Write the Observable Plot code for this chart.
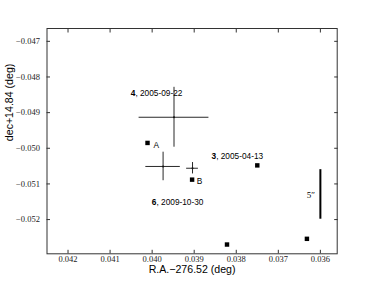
<!DOCTYPE html>
<html><head><meta charset="utf-8">
<script src="https://cdn.jsdelivr.net/npm/d3@7"></script>
<script src="https://cdn.jsdelivr.net/npm/@observablehq/plot@0.6"></script>
<style>body{margin:0;background:#fff}#chart svg{display:block}</style>
</head><body><div id="chart"></div>
<script>
// Tick values
const xTicks = [0.042, 0.041, 0.040, 0.039, 0.038, 0.037, 0.036];
const yTicks = [-0.047, -0.048, -0.049, -0.050, -0.051, -0.052];
// Error-bar positions (deg) and errors
const ebRA = [0.03948, 0.03974, 0.03904];
const ebDec = [-0.04913, -0.05051, -0.05056];
const ebRAerr = [0.00083, 0.00041, 0.00014];
const ebDecErr = [0.00084, 0.00040, 0.00016];
// Square markers
const sqRA = [0.04011, 0.03905, 0.03750, 0.03822, 0.03632];
const sqDec = [-0.04985, -0.05088, -0.05048, -0.05270, -0.05254];
// Epoch labels
const labNum = ["4", "3", "6"];
const labDate = [", 2005-09-22", ", 2005-04-13", ", 2009-10-30"];
const labRA = [0.04051, 0.03859, 0.04001];
const labDec = [-0.04845, -0.05022, -0.05153];
// Letter labels
const letters = ["A", "B"];
const letRA = [0.03997, 0.03894];
const letDec = [-0.04992, -0.05092];
// Scale bar (5 arcsec)
const barRA = [0.0360];
const barDec1 = [-0.05060];
const barDec2 = [-0.05199];
const barText = ["5\u2033"];
const barTextRA = [0.03613];
const barTextDec = [-0.05131];
const xLabel = "R.A.\u2212276.52 (deg)";
const yLabel = "dec+14.84 (deg)";

const fmt = d3.format(".3f");
const eb = ebRA.map((x, i) => ({x, y: ebDec[i], ex: ebRAerr[i], ey: ebDecErr[i]}));
const sq = sqRA.map((x, i) => ({x, y: sqDec[i]}));
const labs = labNum.map((n, i) => ({n, d: labDate[i], x: labRA[i], y: labDec[i]}));
const lets = letters.map((t, i) => ({t, x: letRA[i], y: letDec[i]}));
const bar = barRA.map((x, i) => ({x, y1: barDec1[i], y2: barDec2[i]}));
const barT = barText.map((t, i) => ({t, x: barTextRA[i], y: barTextDec[i]}));

const sans = "Liberation Sans, Arial, sans-serif";
const serif = "'Liberation Serif', 'Times New Roman', serif";

const chart = Plot.plot({
  width: 374, height: 282,
  marginLeft: 46.5, marginRight: 37.3, marginTop: 28, marginBottom: 28.7,
  style: {background: "#fff", fontFamily: serif, fontSize: "8.5px"},
  x: {domain: [0.0425, 0.0356]},
  y: {domain: [-0.05296, -0.04664]},
  marks: [
    Plot.frame({stroke: "#333"}),
    Plot.axisX(xTicks, {anchor: "bottom", tickSize: -3.5, fill: "none", stroke: "#333", label: null}),
    Plot.axisX(xTicks, {anchor: "top", tickSize: -3.5, fill: "none", stroke: "#333", label: null}),
    Plot.axisY(yTicks, {anchor: "left", tickSize: -3.5, fill: "none", stroke: "#333", label: null}),
    Plot.axisY(yTicks, {anchor: "right", tickSize: -3.5, fill: "none", stroke: "#333", label: null}),
    Plot.axisX(xTicks, {anchor: "bottom", tickSize: 0, tickPadding: 2.5, tickFormat: fmt, fill: "#222", label: null}),
    Plot.axisY(yTicks, {anchor: "left", tickSize: 0, tickPadding: 7, tickFormat: fmt, fill: "#222", label: null}),
    Plot.ruleY(eb, {y: "y", x1: d => d.x - d.ex, x2: d => d.x + d.ex, stroke: "#111", strokeWidth: 0.9}),
    Plot.ruleX(eb, {x: "x", y1: d => d.y - d.ey, y2: d => d.y + d.ey, stroke: "#111", strokeWidth: 0.9}),
    Plot.dot(eb, {x: "x", y: "y", r: 1, fill: "#111"}),
    Plot.dot(sq, {x: "x", y: "y", symbol: "square", r: 2.5, fill: "#000"}),
    Plot.text(labs, {x: "x", y: "y", text: "n", textAnchor: "start", fontWeight: "bold", fontFamily: sans, fontSize: 8.3, fill: "#000"}),
    Plot.text(labs, {x: "x", y: "y", text: "d", textAnchor: "start", dx: 4.7, fontFamily: sans, fontSize: 8.3, fill: "#000"}),
    Plot.text(lets, {x: "x", y: "y", text: "t", textAnchor: "start", fontFamily: sans, fontSize: 8.3, fill: "#000"}),
    Plot.ruleX(bar, {x: "x", y1: "y1", y2: "y2", stroke: "#000", strokeWidth: 2}),
    Plot.text(barT, {x: "x", y: "y", text: "t", textAnchor: "end", fontFamily: serif, fontSize: 9, fill: "#000"}),
    Plot.text([xLabel], {frameAnchor: "bottom", dy: 16, lineAnchor: "middle", fontFamily: sans, fontSize: 10.6, fill: "#000"}),
    Plot.text([yLabel], {frameAnchor: "left", dx: -37.5, rotate: -90, lineAnchor: "middle", fontFamily: sans, fontSize: 10.6, fill: "#000"})
  ]
});
document.getElementById("chart").appendChild(chart);
</script>
</body></html>
